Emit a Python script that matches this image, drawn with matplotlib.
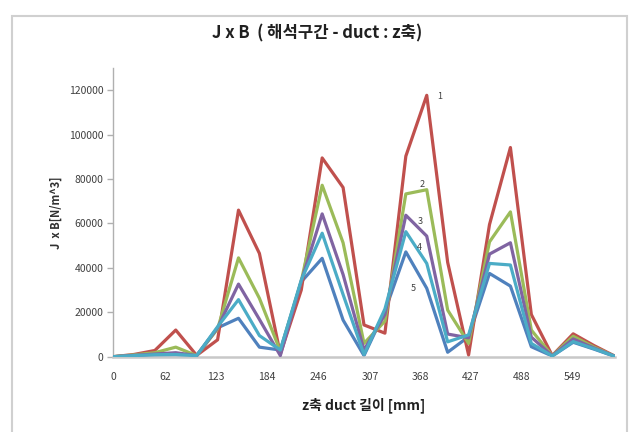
import matplotlib
matplotlib.use("Agg")
import matplotlib.pyplot as plt
from matplotlib.patches import Rectangle

plt.rcParams['font.family'] = ['Noto Sans CJK KR', 'DejaVu Sans']

# === DATA ===
z_mm = [0, 25, 50, 75, 100, 125, 150, 175, 200, 225, 250, 275, 300,
        325, 350, 375, 400, 425, 450, 475, 500, 525, 550, 575, 600]

s1 = [0, 1000, 2800, 12000, 600, 7600, 66000, 46500, 1200, 30000, 89500, 76200, 14300,
      10600, 90300, 117700, 42500, 800, 59500, 94200, 19000, 500, 10300, 5000, 200]
s2 = [0, 800, 1800, 4300, 500, 12500, 44500, 26300, 2500, 34000, 77200, 51300, 6000,
      16000, 73300, 75200, 21000, 6000, 51700, 65200, 12000, 400, 9200, 4300, 200]
s3 = [0, 600, 1200, 1800, 500, 13000, 32700, 16800, 500, 34000, 64300, 37000, 3000,
      19000, 63700, 54300, 10200, 8500, 46200, 51300, 8800, 400, 8000, 3900, 200]
s4 = [0, 500, 900, 1000, 500, 13500, 25700, 9500, 3000, 34500, 55600, 28000, 1000,
      21500, 56300, 42000, 6700, 9800, 42000, 41300, 6000, 300, 6800, 3600, 100]
s5 = [0, 400, 700, 800, 500, 13000, 17300, 4300, 3000, 33700, 44300, 16500, 500,
      20500, 47200, 30800, 2000, 9000, 37500, 31800, 4500, 300, 6500, 3400, 100]

x_ticks = [0, 62, 123, 184, 246, 307, 368, 427, 488, 549]
y_ticks = [0, 20000, 40000, 60000, 80000, 100000, 120000]

# series labels placed next to the peaks (x in mm, y in N/m^3)
tag_text = ['1', '2', '3', '4', '5']
tag_x = [390, 370, 367, 366, 359]
tag_y = [117000, 77700, 61100, 49300, 30800]

# Excel 2007 palette
C_RED = "#C0504D"
C_GREEN = "#9BBB59"
C_PURPLE = "#8064A2"
C_CYAN = "#4BACC6"
C_BLUE = "#4F81BD"

fig = plt.figure(figsize=(6.3, 4.32), dpi=100)
ax = fig.add_axes([113 / 630, 1 - 356.7 / 432, 502 / 630, (356.7 - 68) / 432])

lw = 2.3
# draw order as in the original workbook: blue first, cyan on top
ax.plot(z_mm, s5, color=C_BLUE, lw=lw, zorder=2)
ax.plot(z_mm, s1, color=C_RED, lw=lw, zorder=3)
ax.plot(z_mm, s2, color=C_GREEN, lw=lw, zorder=4)
ax.plot(z_mm, s3, color=C_PURPLE, lw=lw, zorder=5)
ax.plot(z_mm, s4, color=C_CYAN, lw=lw, zorder=6)

for t, tx, ty in zip(tag_text, tag_x, tag_y):
    ax.text(tx, ty, t, fontsize=6.5, color="#404040", ha='center', va='center', zorder=7)

ax.set_xlim(0, 600)
ax.set_ylim(0, 130000)
ax.set_xticks(x_ticks)
ax.set_xticklabels([str(v) for v in x_ticks])
ax.set_yticks(y_ticks)
ax.set_yticklabels([str(v) for v in y_ticks])

for side in ['top', 'right']:
    ax.spines[side].set_visible(False)
ax.spines['left'].set_color('#b0b0b0')
ax.spines['left'].set_linewidth(1.0)
ax.spines['bottom'].set_color('#c8c8c8')
ax.spines['bottom'].set_linewidth(1.8)

ax.tick_params(axis='x', length=0, pad=11, labelsize=7.5, labelcolor='#404040')
ax.tick_params(axis='y', length=4, width=1, color='#b0b0b0', pad=3,
               labelsize=7.5, labelcolor='#404040')

ax.set_ylabel("J  x B[N/m^3]", fontsize=8, fontweight='bold', color='#303030')
ax.yaxis.set_label_coords(-0.10, 0.5)

fig.text(317 / 630, 1 - 33 / 432, "J x B  ( 해석구간 - duct : z축)",
         ha='center', va='center', fontsize=12, fontweight='bold', color='#202020')
fig.text(364 / 630, 1 - 405 / 432, "z축 duct 길이 [mm]",
         ha='center', va='center', fontsize=10, fontweight='bold', color='#202020')

# chart area border
fig.patches.append(Rectangle((12 / 630, -0.02), 615 / 630, 1 - 16 / 432 + 0.02,
                             transform=fig.transFigure, fill=False,
                             ec='#d0d0d0', lw=1.5))

fig.savefig("out.png", dpi=100)
